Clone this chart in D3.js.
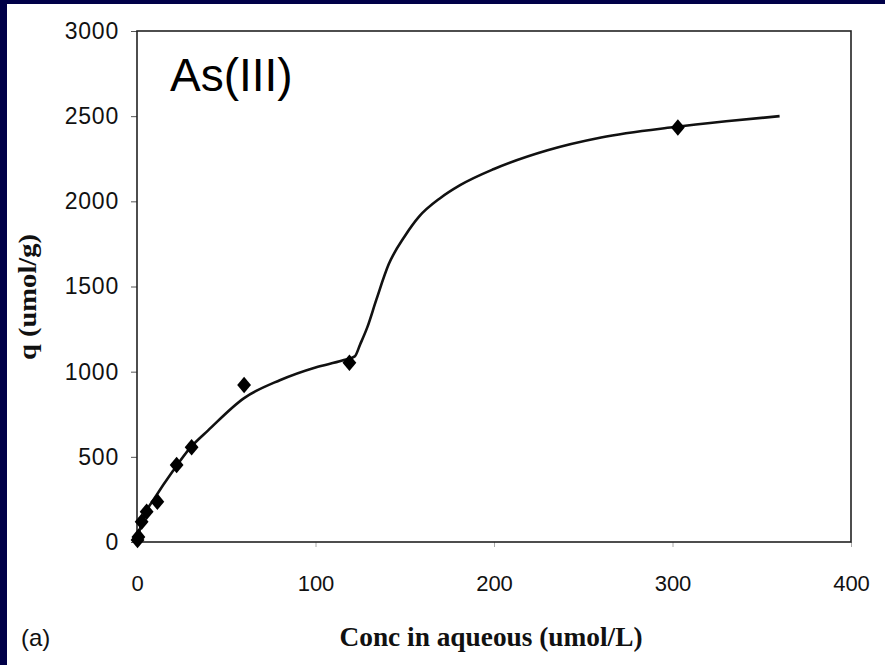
<!DOCTYPE html>
<html>
<head>
    <script src="https://d3js.org/d3.v7.min.js"></script>
    <style>
        body { margin: 0; background-color: #000048; }
    </style>
</head>
<body>
<div id="chart"></div>
<script>
    // measured points As(III)
    var concData = [0.3, 0.8, 2.6, 5.4, 11.4, 22.2, 30.6, 60, 119, 303];
    var qData    = [12, 30, 119, 178, 237, 452, 556, 922, 1052, 2433];

    // fitted curve
    var fitConc = [0, 2, 5, 10, 20, 30, 40, 60, 80, 100, 115, 122, 125, 129, 134, 141, 150, 158, 170, 181, 200, 230, 260, 300, 330, 360];
    var fitQ    = [0, 90, 175, 260, 415, 555, 657, 845, 950, 1025, 1065, 1090, 1160, 1260, 1420, 1630, 1795, 1910, 2020, 2095, 2190, 2300, 2375, 2435, 2470, 2500];

    var xTicks = [0, 100, 200, 300, 400];
    var yTicks = [0, 500, 1000, 1500, 2000, 2500, 3000];

    var W = 885, H = 665;
    var margin = {top: 31, right: 34, bottom: 123, left: 137},
        width = W - margin.left - margin.right,
        height = H - margin.top - margin.bottom;

    var root = d3.select("#chart")
        .append("svg")
        .attr("width", W)
        .attr("height", H);

    // navy frame, white paper
    root.append("rect").attr("width", W).attr("height", H).attr("fill", "#000048");
    root.append("rect").attr("x", 7).attr("y", 4).attr("width", W - 7).attr("height", H - 4).attr("fill", "white");

    var svg = root.append("g")
        .attr("transform", "translate(" + margin.left + "," + margin.top + ")");

    var x = d3.scaleLinear().domain([0, 400]).range([0, width]);
    var y = d3.scaleLinear().domain([0, 3000]).range([height, 0]);

    // X axis
    var xAxis = svg.append("g")
        .attr("transform", "translate(0," + height + ")")
        .call(d3.axisBottom(x).tickValues(xTicks).tickFormat(d3.format("d")).tickSize(5).tickPadding(28));
    xAxis.select(".domain").remove();
    xAxis.selectAll("line").attr("stroke", "#aaa");
    xAxis.selectAll("text")
        .style("font-family", "Arial, 'Liberation Sans', sans-serif")
        .style("font-size", "22px")
        .attr("fill", "#111");

    // Y axis
    var yAxis = svg.append("g")
        .call(d3.axisLeft(y).tickValues(yTicks).tickFormat(d3.format("d")).tickSize(6).tickPadding(12));
    yAxis.select(".domain").remove();
    yAxis.selectAll("line").attr("stroke", "#555");
    yAxis.selectAll("text")
        .style("font-family", "Arial, 'Liberation Sans', sans-serif")
        .style("font-size", "23px")
        .style("letter-spacing", "0.8px")
        .attr("fill", "#111");

    // plot box
    svg.append("rect")
        .attr("width", width)
        .attr("height", height)
        .attr("fill", "none")
        .attr("stroke", "#222")
        .attr("stroke-width", 1.6);

    // fitted line
    var line = d3.line()
        .x(function(d) { return x(d[0]); })
        .y(function(d) { return y(d[1]); })
        .curve(d3.curveMonotoneX);
    svg.append("path")
        .datum(d3.zip(fitConc, fitQ))
        .attr("d", line)
        .attr("fill", "none")
        .attr("stroke", "#111")
        .attr("stroke-width", 2.6);

    // diamonds
    svg.selectAll("mydiamond")
        .data(d3.zip(concData, qData))
        .enter()
        .append("path")
        .attr("d", d3.symbol().type(d3.symbolDiamond2).size(150))
        .attr("transform", function(d) {
            return "translate(" + x(d[0]) + "," + y(d[1]) + ") scale(0.9,1.08)";
        })
        .attr("fill", "#000");

    // annotation
    svg.append("text")
        .attr("x", 33)
        .attr("y", 60)
        .style("font-family", "Arial, 'Liberation Sans', sans-serif")
        .style("font-size", "46px")
        .attr("fill", "#000")
        .text("As(III)");

    // axis titles
    root.append("text")
        .attr("transform", "translate(36,297) rotate(-90)")
        .attr("text-anchor", "middle")
        .attr("textLength", 126)
        .attr("lengthAdjust", "spacingAndGlyphs")
        .style("font-family", "'Liberation Serif', 'Times New Roman', serif")
        .style("font-weight", "bold")
        .style("font-size", "25px")
        .attr("fill", "#111")
        .text("q (umol/g)");

    root.append("text")
        .attr("x", 491)
        .attr("y", 646)
        .attr("text-anchor", "middle")
        .attr("textLength", 303)
        .attr("lengthAdjust", "spacingAndGlyphs")
        .style("font-family", "'Liberation Serif', 'Times New Roman', serif")
        .style("font-weight", "bold")
        .style("font-size", "27px")
        .attr("fill", "#111")
        .text("Conc in aqueous (umol/L)");

    root.append("text")
        .attr("x", 21)
        .attr("y", 646)
        .style("font-family", "Arial, 'Liberation Sans', sans-serif")
        .style("font-size", "24px")
        .attr("fill", "#111")
        .text("(a)");
</script>
</body>
</html>
